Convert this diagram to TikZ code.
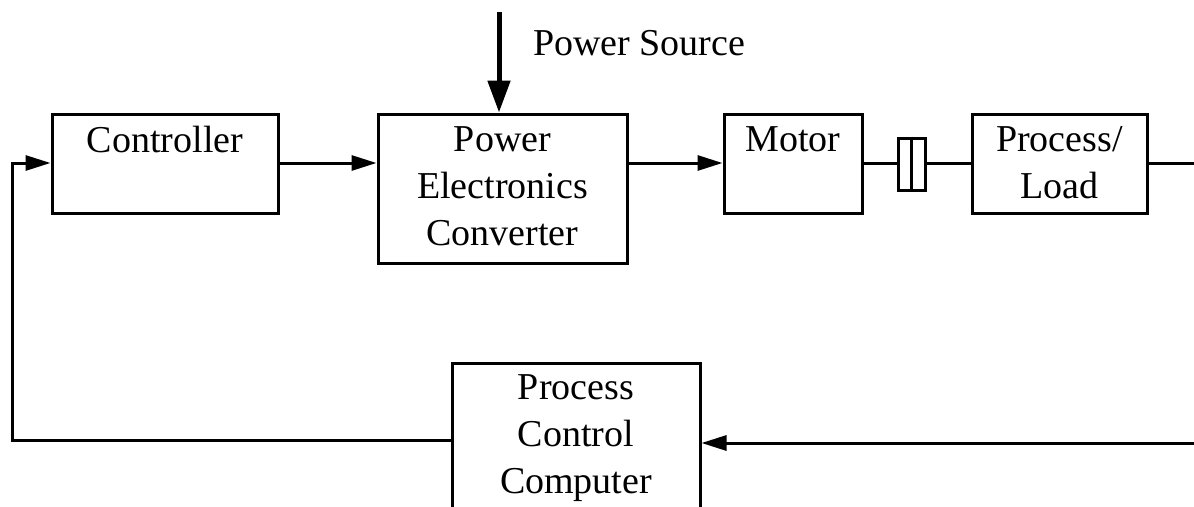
\documentclass[tikz,border=0pt]{standalone}
\usepackage{fontspec}
\setmainfont{Liberation Serif}
\usetikzlibrary{arrows.meta}
\begin{document}
\begin{tikzpicture}[x=1pt,y=-1pt,
  blk/.style={draw,line width=3pt,line join=miter,inner sep=0pt,minimum width=#1},
  lbl/.style={font=\fontsize{38}{47}\selectfont,align=center,anchor=north,inner sep=0pt},
  conn/.style={line width=3pt},
  arr/.style={conn,-{Triangle[length=25pt,width=15pt]}}]
\useasboundingbox (0,0) rectangle (1194,506);
\clip (0,0) rectangle (1194,506);
% boxes
\node[blk=226pt,minimum height=99pt] (ctrl) at (165,163.5) {};
\node[blk=249pt,minimum height=149pt] (pec) at (502.5,188.5) {};
\node[blk=138pt,minimum height=99pt] (motor) at (793,163.5) {};
\node[blk=175pt,minimum height=99pt] (load) at (1059.5,163.5) {};
\node[blk=248pt,minimum height=180pt] (pcc) at (576,453) {};
\node[draw,line width=3pt,inner sep=0pt,minimum width=27pt,minimum height=52pt] (coup) at (911.5,164) {};
% labels
\node[lbl] (ctrlT) at (165,126) {Controller};
\node[lbl] (pecT) at (502.5,126) {Power\\Electronics\\Converter};
\node[lbl] (motorT) at (793,126) {Motor};
\node[lbl] (loadT) at (1059.5,126) {Process/\\Load};
\node[lbl] (pccT) at (576,374) {Process\\Control\\Computer};
\node[font=\fontsize{38}{47}\selectfont,anchor=base west,inner sep=0pt] (psT) at (533,55) {Power Source};
% coordinates
\coordinate (psTop) at (499,12);
\coordinate (rEdgeTop) at (1200,163);
\coordinate (rEdgeBot) at (1200,443);
\coordinate (lCornerBot) at (12,440);
\coordinate (lCornerTop) at (12,163);
% connectors
\draw[line width=5pt,-{Triangle[length=32pt,width=22pt]}] (psTop) -- (psTop |- pec.north);
\draw[arr] (ctrl.east |- 0,163) -- (pec.west |- 0,163);
\draw[arr] (pec.east |- 0,163) -- (motor.west |- 0,163);
\draw[conn] (motor.east |- 0,163) -- (coup.west |- 0,163);
\draw[conn] (coup.north) -- (coup.south);
\draw[conn] (coup.east |- 0,163) -- (load.west |- 0,163);
\draw[conn] (load.east |- 0,163) -- (rEdgeTop);
\draw[arr] (rEdgeBot) -- (pcc.east |- 0,443);
\draw[arr,line join=miter] (pcc.west |- 0,440) -- (lCornerBot) -- (lCornerTop) -- (ctrl.west |- 0,163);
\end{tikzpicture}
\end{document}
